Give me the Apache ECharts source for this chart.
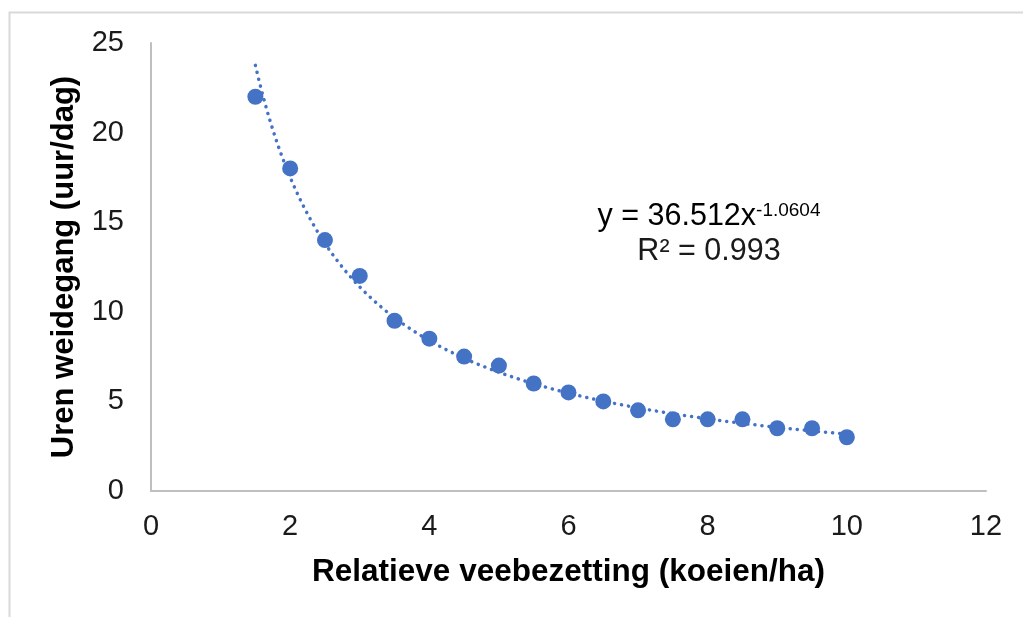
<!DOCTYPE html>
<html>
<head>
<meta charset="utf-8">
<script src="https://cdn.jsdelivr.net/npm/echarts@6/dist/echarts.min.js"></script>
<style>
  html, body { margin: 0; padding: 0; background: #fff; }
  #chart { width: 1023px; height: 617px; }
</style>
</head>
<body>
<div id="chart"></div>
<script>
// veebezetting (koeien/ha) en uren weidegang (uur/dag)
const xValues = [1.5, 2, 2.5, 3, 3.5, 4, 4.5, 5, 5.5, 6, 6.5, 7, 7.5, 8, 8.5, 9, 9.5, 10];
const yValues = [22, 18, 14, 12, 9.5, 8.5, 7.5, 7, 6, 5.5, 5, 4.5, 4, 4, 4, 3.5, 3.5, 3];
const xTicks = [0, 2, 4, 6, 8, 10, 12];
const yTicks = [0, 5, 10, 15, 20, 25];
// machtstrendlijn zoals in de grafiek vermeld: y = 36.512x^-1.0604
const trendA = 36.512;
const trendB = -1.0604;
const trendR2 = 0.993;

const blue = "#4472C4";
const font = "'Liberation Sans', Arial, sans-serif";

// trendlijn over het bereik van de metingen, met de getoonde coëfficiënten
const trendData = [];
const xFirst = xValues[0];
const xLast = xValues[xValues.length - 1];
for (let i = 0; i <= 200; i++) {
  const x = xFirst + (xLast - xFirst) * i / 200;
  trendData.push([x, trendA * Math.pow(x, trendB)]);
}

const chart = echarts.init(document.getElementById("chart"), null, { renderer: "canvas" });
const option = {
  animation: false,
  backgroundColor: "#fff",
  grid: { left: 151, right: 37, top: 43, bottom: 126 },
  xAxis: {
    type: "value",
    min: xTicks[0],
    max: xTicks[xTicks.length - 1],
    interval: 2,
    name: "Relatieve veebezetting (koeien/ha)",
    nameLocation: "middle",
    nameGap: 65,
    nameTextStyle: { fontFamily: font, fontSize: 31.5, fontWeight: "bold", color: "#000" },
    axisLine: { lineStyle: { color: "#bfbfbf", width: 2 } },
    axisTick: { show: false },
    splitLine: { show: false },
    axisLabel: { fontFamily: font, fontSize: 29, color: "#1a1a1a", margin: 21 }
  },
  yAxis: {
    type: "value",
    min: yTicks[0],
    max: yTicks[yTicks.length - 1],
    interval: 5,
    name: "Uren weidegang (uur/dag)",
    nameLocation: "middle",
    nameGap: 71,
    nameTextStyle: { fontFamily: font, fontSize: 31, fontWeight: "bold", color: "#000" },
    axisLine: { show: true, lineStyle: { color: "#bfbfbf", width: 2 } },
    axisTick: { show: false },
    splitLine: { show: false },
    axisLabel: { fontFamily: font, fontSize: 29, color: "#1a1a1a", margin: 27 }
  },
  graphic: [
    {
      type: "rect",
      left: 7,
      top: 10,
      shape: { width: 1040, height: 640 },
      style: { fill: "none", stroke: "#d9d9d9", lineWidth: 2 },
      silent: true,
      z: -1
    },
    {
      type: "text",
      x: 709,
      y: 217,
      style: {
        text: "{a|y = " + trendA + "x}{s|" + trendB + "}",
        align: "center",
        verticalAlign: "middle",
        rich: {
          a: { fontFamily: font, fontSize: 30.5, color: "#1a1a1a" },
          s: { fontFamily: font, fontSize: 19, color: "#1a1a1a", verticalAlign: "top" }
        }
      }
    },
    {
      type: "text",
      x: 709,
      y: 252,
      style: {
        text: "R² = " + trendR2,
        align: "center",
        verticalAlign: "middle",
        fontFamily: font,
        fontSize: 30.5,
        fill: "#1a1a1a"
      }
    }
  ],
  series: [
    {
      type: "line",
      data: trendData,
      showSymbol: false,
      smooth: false,
      lineStyle: { color: blue, width: 3.5, type: [0.1, 7], cap: "round" },
      z: 2
    },
    {
      type: "scatter",
      data: xValues.map((x, i) => [x, yValues[i]]),
      symbol: "circle",
      symbolSize: 16,
      itemStyle: { color: blue, opacity: 1 },
      z: 3
    }
  ]
};
chart.setOption(option);
</script>
</body>
</html>
